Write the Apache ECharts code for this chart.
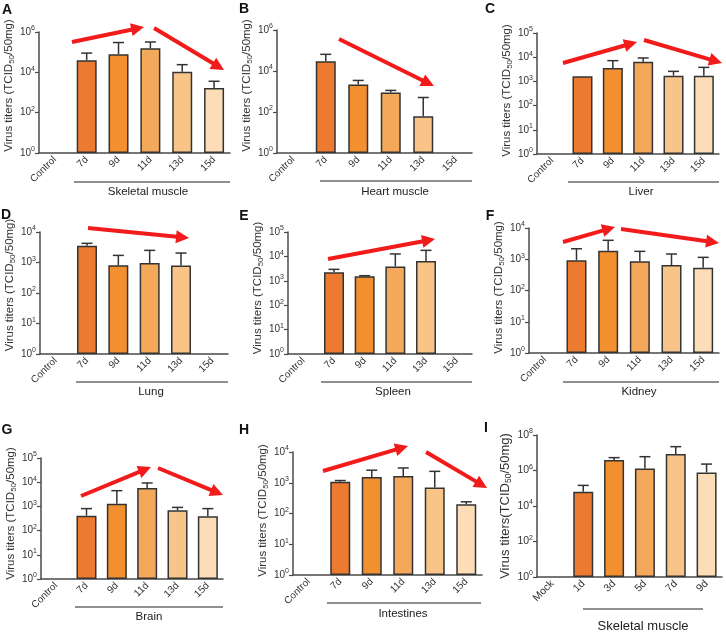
<!DOCTYPE html>
<html>
<head>
<meta charset="utf-8">
<script src="https://cdn.jsdelivr.net/npm/echarts@6/dist/echarts.min.js"></script>
<style>
  html, body { margin: 0; padding: 0; background: #fff; }
  #chart { width: 726px; height: 632px; }
</style>
</head>
<body>
<div id="chart"></div>
<script>
// categories
const daysTissue = ['Control', '7d', '9d', '11d', '13d', '15d'];
const daysMuscle = ['Mock', '1d', '3d', '5d', '7d', '9d'];
const tissues = ['Skeletal muscle', 'Heart muscle', 'Liver', 'Lung', 'Spleen', 'Kidney', 'Brain', 'Intestines', 'Skeletal muscle'];
const panelLetters = ['A', 'B', 'C', 'D', 'E', 'F', 'G', 'H', 'I'];

// mean titer (bar) and top of error bar, TCID50/50mg
const titerA = [null, 40000, 78000, 155000, 10700, 1670];
const errTopA = [null, 90000, 300000, 320000, 24000, 3600];
const titerB = [null, 29500, 2200, 900, 62, null];
const errTopB = [null, 65000, 3470, 1130, 510, null];
const titerC = [null, 1620, 3560, 6550, 1730, 1730];
const errTopC = [null, null, 7200, 9300, 2600, 3800];
const titerD = [null, 3550, 810, 960, 790, null];
const errTopD = [null, 4250, 1710, 2500, 2040, null];
const titerE = [null, 2230, 1520, 3900, 6500, null];
const errTopE = [null, 2950, 1620, 12600, 17700, null];
const titerF = [null, 925, 1880, 860, 655, 535];
const errTopF = [null, 2170, 4040, 1790, 1470, 1150];
const titerG = [null, 415, 1300, 5750, 690, 390];
const errTopG = [null, 810, 4470, 9300, 910, 810];
const titerH = [null, 1070, 1550, 1660, 700, 200];
const errTopH = [null, 1180, 2560, 3030, 2350, 240];
const titerI = [null, 63000, 3900000, 1300000, 8500000, 780000];
const errTopI = [null, 145000, 5300000, 6000000, 22000000, 2300000];

// y axis: exponent of top tick, decades between labels
const yMaxExp = [6, 6, 5, 4, 5, 4, 5, 4, 8];
const yStepExp = [2, 2, 1, 1, 1, 1, 1, 1, 2];

const titers = [titerA, titerB, titerC, titerD, titerE, titerF, titerG, titerH, titerI];
const errTops = [errTopA, errTopB, errTopC, errTopD, errTopE, errTopF, errTopG, errTopH, errTopI];

// bar fill per category (control has no bar)
const barColors = ['#EC7A30', '#EC7A30', '#F29030', '#F4A95A', '#F9C488', '#FDDDB8'];

// layout: grid [left, top, width, height], letter pos, group line [x1, x2, y], group label [x, y], name shift, arrows
const layout = [
  { grid: [37, 32, 193, 121], letter: [7, 10], line: [74, 230, 182], label: [148, 192], shift: 7, arrows: [[72, 42, 144, 27], [154, 28, 224, 70]] },
  { grid: [277, 30, 195, 123], letter: [244, 9], line: [320, 472, 181], label: [395, 192], shift: 6, arrows: [[339, 39, 434, 86]] },
  { grid: [537, 33, 182, 121], letter: [490, 9], line: [568, 719, 182], label: [641, 192], shift: 3, arrows: [[563, 63, 637, 42], [644, 40, 722, 63]] },
  { grid: [40, 232, 188, 122], letter: [6, 215], line: [76, 228, 382], label: [151, 392], shift: 8, arrows: [[88, 228, 189, 238]] },
  { grid: [288, 232, 184, 122], letter: [244, 216], line: [321, 472, 382], label: [393, 392], shift: 5, arrows: [[328, 259, 435, 239]] },
  { grid: [529, 228, 190, 125], letter: [490, 216], line: [563, 719, 382], label: [639, 392], shift: 3, arrows: [[563, 242, 615, 227], [621, 229, 719, 243]] },
  { grid: [41, 458, 182, 121], letter: [7, 430], line: [75, 223, 607], label: [149, 617], shift: 5, arrows: [[81, 496, 151, 467], [158, 468, 223, 495]] },
  { grid: [293, 452, 189, 123], letter: [244, 430], line: [327, 481, 603], label: [403, 614], shift: 3, arrows: [[323, 471, 408, 446], [426, 452, 487, 488]] },
  { grid: [537, 435, 185, 142], letter: [486, 428], line: [583, 703, 609], label: [643, 626], shift: 0, arrows: [] }
];

const FONT = 'Liberation Sans, Arial, sans-serif';
const AXIS = '#4a4a4a';
const RED = '#F21B1B';

function arrowShapes(a) {
  const [x1, y1, x2, y2] = a;
  const ang = Math.atan2(y2 - y1, x2 - x1);
  const headLen = 13, headW = 6.5;
  const bx = x2 - headLen * Math.cos(ang), by = y2 - headLen * Math.sin(ang);
  const nx = -Math.sin(ang), ny = Math.cos(ang);
  return [
    { type: 'line', shape: { x1: x1, y1: y1, x2: bx + Math.cos(ang), y2: by + Math.sin(ang) }, style: { stroke: RED, lineWidth: 4 } },
    { type: 'polygon', shape: { points: [[x2, y2], [bx + nx * headW, by + ny * headW], [bx - nx * headW, by - ny * headW]] }, style: { fill: RED } }
  ];
}

const grids = [], xAxes = [], yAxes = [], series = [], graphics = [];

layout.forEach((p, i) => {
  const cats = i === 8 ? daysMuscle : daysTissue;
  const big = i === 8;
  grids.push({ left: p.grid[0], top: p.grid[1], width: p.grid[2], height: p.grid[3] });
  xAxes.push({
    type: 'category', gridIndex: i, data: cats,
    axisLine: { lineStyle: { color: AXIS, width: 1.5 } },
    axisTick: { alignWithLabel: true, length: 4, lineStyle: { color: AXIS, width: 1.2 } },
    axisLabel: { rotate: 45, interval: 0, fontSize: big ? 10.5 : 10, color: '#333', margin: 5, fontFamily: FONT }
  });
  yAxes.push({
    type: 'log', gridIndex: i, logBase: Math.pow(10, yStepExp[i]),
    min: 1, max: Math.pow(10, yMaxExp[i]),
    axisLine: { show: true, lineStyle: { color: AXIS, width: 1.5 } },
    axisTick: { show: true, length: 4, lineStyle: { color: AXIS, width: 1.2 } },
    splitLine: { show: false },
    minorTick: { show: false },
    axisLabel: {
      formatter: v => '10{sup|' + Math.round(Math.log10(v)) + '}',
      color: '#333', fontSize: big ? 10.5 : 10, lineHeight: 14, margin: 4, fontFamily: FONT,
      rich: { sup: { fontSize: 7, verticalAlign: 'top', lineHeight: 14, color: '#333', fontFamily: FONT } }
    },
    name: big ? 'Virus titers(TCID{sub|50}/50mg)' : 'Virus titers (TCID{sub|50}/50mg)',
    nameLocation: 'middle', nameGap: big ? 24 : 22,
    nameTextStyle: {
      color: '#333', fontSize: big ? 13 : 11.5, lineHeight: 15, fontFamily: FONT,
      padding: [0, 0, 0, p.shift * 2],
      rich: { sub: { fontSize: big ? 8.5 : 8, verticalAlign: 'bottom', lineHeight: 15, color: '#333', fontFamily: FONT } }
    }
  });
  series.push({
    type: 'bar', xAxisIndex: i, yAxisIndex: i, data: titers[i], barWidth: 20,
    itemStyle: { color: params => barColors[params.dataIndex], borderColor: '#333', borderWidth: 1.5 },
    silent: true
  });
  const errData = [];
  errTops[i].forEach((v, k) => { if (v != null && titers[i][k] != null) errData.push([k, titers[i][k], v]); });
  series.push({
    type: 'custom', xAxisIndex: i, yAxisIndex: i, data: errData, z: 3, silent: true,
    encode: { x: 0, y: [1, 2] },
    renderItem: (params, api) => {
      const base = api.coord([api.value(0), api.value(1)]);
      const top = api.coord([api.value(0), api.value(2)]);
      const half = 5.5;
      return {
        type: 'group', children: [
          { type: 'line', shape: { x1: base[0], y1: base[1], x2: top[0], y2: top[1] }, style: { stroke: '#333', lineWidth: 1.5 } },
          { type: 'line', shape: { x1: top[0] - half, y1: top[1], x2: top[0] + half, y2: top[1] }, style: { stroke: '#333', lineWidth: 1.5 } }
        ]
      };
    }
  });
  // group underline + tissue name
  graphics.push({ type: 'line', shape: { x1: p.line[0], y1: p.line[2], x2: p.line[1], y2: p.line[2] }, style: { stroke: '#222', lineWidth: 1.2 } });
  graphics.push({
    type: 'text', x: p.label[0], y: p.label[1],
    style: { text: tissues[i], fontSize: big ? 13 : 11.5, fill: '#222', fontFamily: FONT, textAlign: 'center', textVerticalAlign: 'middle' }
  });
  graphics.push({
    type: 'text', x: p.letter[0], y: p.letter[1],
    style: { text: panelLetters[i], fontSize: 14, fontWeight: 'bold', fill: '#111', fontFamily: FONT, textAlign: 'center', textVerticalAlign: 'middle' }
  });
  p.arrows.forEach(a => arrowShapes(a).forEach(s => graphics.push(s)));
});

const chart = echarts.init(document.getElementById('chart'), null, { renderer: 'canvas' });
chart.setOption({
  animation: false,
  backgroundColor: '#fff',
  textStyle: { fontFamily: FONT },
  grid: grids,
  xAxis: xAxes,
  yAxis: yAxes,
  series: series,
  graphic: graphics
});
</script>
</body>
</html>
